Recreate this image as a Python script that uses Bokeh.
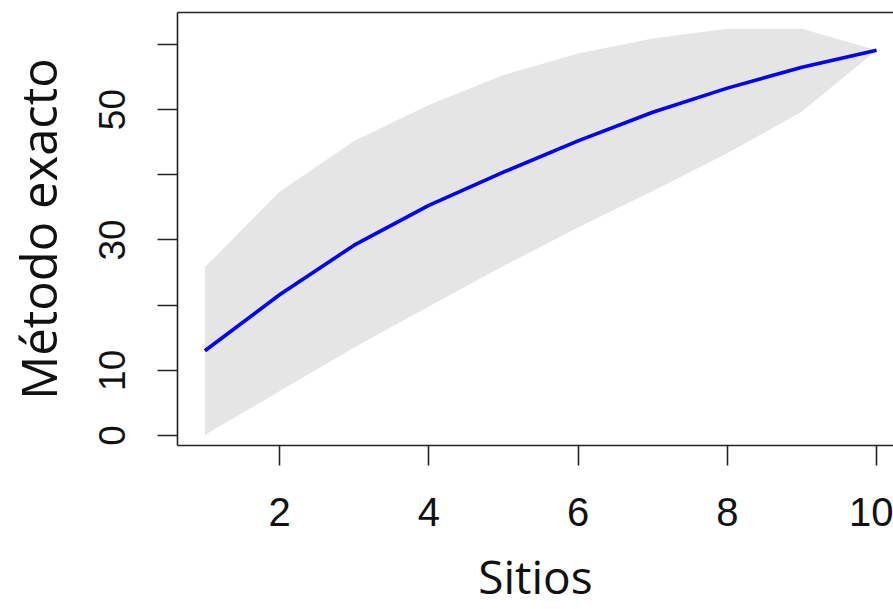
from bokeh.plotting import figure
from bokeh.models import LinearAxis, FixedTicker, Range1d, ColumnDataSource
from bokeh.embed import file_html
from bokeh.resources import INLINE

# Data (species accumulation, exact method)
sites = [1, 2, 3, 4, 5, 6, 7, 8, 9, 10]
richness = [13.0, 21.6, 29.2, 35.3, 40.4, 45.2, 49.6, 53.3, 56.5, 59.1]
upper = [25.8, 37.4, 45.2, 50.7, 55.3, 58.6, 60.9, 62.4, 62.4, 59.1]
lower = [0.1, 6.8, 13.5, 19.8, 26.0, 31.9, 37.5, 43.3, 49.7, 59.1]
x_ticks = [2, 4, 6, 8, 10]
y_ticks = [0, 10, 20, 30, 40, 50, 60]
y_tick_labels = {0: "0", 10: "10", 20: "", 30: "30", 40: "", 50: "50", 60: ""}
x_title = "Sitios"
y_title = "Método exacto"

W, H = 893, 609
L, T, B = 177, 12, 164
X0, X1 = 0.633, 10.227
Y0, Y1 = -1.53, 64.9

src = ColumnDataSource(dict(x=sites, y=richness, lo=lower, hi=upper))

p = figure(width=W, height=H, output_backend="svg", toolbar_location=None,
           x_range=Range1d(X0, X1), y_range=Range1d(Y0, Y1),
           x_axis_location=None, y_axis_location=None,
           min_border_left=L, min_border_right=0, min_border_top=T, min_border_bottom=B)
p.outline_line_color = None
p.grid.visible = False
p.background_fill_color = "white"
p.border_fill_color = "white"

p.varea(x="x", y1="lo", y2="hi", source=src, fill_color="#E5E5E5")
p.line(x="x", y="y", source=src, line_color="#0000FF", line_width=3.6)

TICK_FONT = "Liberation Sans"
TITLE_FONT = "Open Sans"

yax = LinearAxis(ticker=FixedTicker(ticks=y_ticks), major_label_overrides=y_tick_labels)
yax.axis_label = y_title
yax.major_label_orientation = "vertical"
xax = LinearAxis(ticker=FixedTicker(ticks=x_ticks))
xax.axis_label = x_title

for ax in (xax, yax):
    ax.axis_line_color = "#222222"
    ax.axis_line_width = 1.6
    ax.major_tick_line_color = "#222222"
    ax.major_tick_line_width = 1.6
    ax.major_tick_out = 20
    ax.major_tick_in = 0
    ax.minor_tick_line_color = None
    ax.major_label_text_font = TICK_FONT
    ax.major_label_text_color = "#111111"
    ax.axis_label_text_font = TITLE_FONT
    ax.axis_label_text_font_style = "normal"
    ax.axis_label_text_color = "#111111"

xax.major_label_text_font_size = "40px"
xax.major_label_standoff = 32
xax.axis_label_text_font_size = "46px"
xax.axis_label_standoff = 16

yax.major_label_text_font_size = "37px"
yax.major_label_standoff = 32
yax.axis_label_text_font_size = "49px"
yax.axis_label_standoff = 26

top = LinearAxis(ticker=FixedTicker(ticks=[]))
top.axis_line_color = "#222222"
top.axis_line_width = 1.6
top.major_tick_line_color = None
top.minor_tick_line_color = None
top.major_label_text_font_size = "0px"
top.major_label_standoff = 0
top.major_tick_out = 0

p.add_layout(yax, "left")
p.add_layout(xax, "below")
p.add_layout(top, "above")

open("out.html", "w").write(file_html(p, INLINE))
